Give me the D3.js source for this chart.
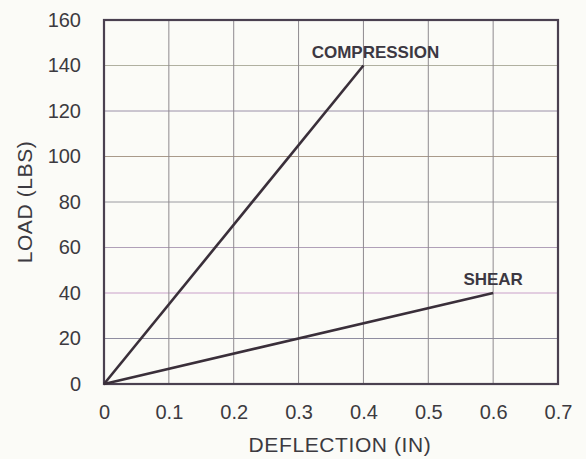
<!DOCTYPE html>
<html><head><meta charset="utf-8">
<script src="https://cdn.jsdelivr.net/npm/d3@7"></script>
<style>
html,body{margin:0;padding:0;background:#fbfbf7;}
svg{display:block;}
text{font-family:"Liberation Sans",Arial,Helvetica,sans-serif;}
</style></head>
<body>
<svg id="c" width="586" height="459"></svg>
<script>
const seriesNames = ["COMPRESSION", "SHEAR"];
const compressionX = [0, 0.4];
const compressionY = [0, 140];
const shearX = [0, 0.6];
const shearY = [0, 40];
const xTicks = [0, 0.1, 0.2, 0.3, 0.4, 0.5, 0.6, 0.7];
const yTicks = [0, 20, 40, 60, 80, 100, 120, 140, 160];
const xTitle = "DEFLECTION (IN)";
const yTitle = "LOAD (LBS)";

const svg = d3.select("#c");
const m = {l:104, r:558, t:20, b:384};
const x = d3.scaleLinear().domain([0,0.7]).range([m.l, m.r]);
const y = d3.scaleLinear().domain([0,160]).range([m.b, m.t]);

svg.append("rect").attr("width",586).attr("height",459).attr("fill","#fbfbf7");

const hColors = ["#8f8da0","#c9a0c9","#b0a0b8","#9a9aa0","#a99a8a","#9a90a8","#b0b0a0","#8aa8c0","#a090b0"];
svg.append("g").selectAll("line").data(yTicks.filter(d=>d>0 && d<160)).join("line")
  .attr("x1",m.l).attr("x2",m.r).attr("y1",d=>y(d)).attr("y2",d=>y(d))
  .attr("stroke",(d,i)=>hColors[i]).attr("stroke-width",1);
svg.append("g").selectAll("line").data(xTicks.filter(d=>d>0 && d<0.7)).join("line")
  .attr("x1",d=>x(d)).attr("x2",d=>x(d)).attr("y1",m.t).attr("y2",m.b)
  .attr("stroke","#8e8a8e").attr("stroke-width",1);

svg.append("rect").attr("x",m.l).attr("y",m.t).attr("width",m.r-m.l).attr("height",m.b-m.t)
  .attr("fill","none").attr("stroke","#4a4050").attr("stroke-width",2.2);

const xAxis = svg.append("g").attr("transform",`translate(0,${m.b})`)
  .call(d3.axisBottom(x).tickValues(xTicks).tickFormat(d=>d===0?"0":d3.format(".1f")(d)).tickSize(0).tickPadding(21));
xAxis.select(".domain").remove();
xAxis.selectAll("text").attr("font-size",20).attr("fill","#3c3a40").attr("font-family","Liberation Sans, Arial, sans-serif");

const yAxis = svg.append("g").attr("transform",`translate(${m.l},0)`)
  .call(d3.axisLeft(y).tickValues(yTicks).tickSize(0).tickPadding(23));
yAxis.select(".domain").remove();
yAxis.selectAll("text").attr("font-size",20).attr("fill","#3c3a40").attr("font-family","Liberation Sans, Arial, sans-serif");

const line = d3.line().x(d=>x(d[0])).y(d=>y(d[1]));
const series = [
  {name:seriesNames[0], pts:compressionX.map((v,i)=>[v,compressionY[i]])},
  {name:seriesNames[1], pts:shearX.map((v,i)=>[v,shearY[i]])}
];
svg.append("g").selectAll("path").data(series).join("path")
  .attr("d",d=>line(d.pts)).attr("fill","none").attr("stroke","#3a2f3a").attr("stroke-width",2.6);

svg.append("text").attr("x",x(0.4)+12).attr("y",y(140)-8).attr("text-anchor","middle")
  .attr("font-size",17).attr("font-weight","bold").attr("fill","#3c3842").text(series[0].name);
svg.append("text").attr("x",x(0.6)).attr("y",y(40)-8).attr("text-anchor","middle")
  .attr("font-size",17).attr("font-weight","bold").attr("fill","#3c3842").text(series[1].name);

svg.append("text").attr("x",340).attr("y",452).attr("text-anchor","middle")
  .attr("font-size",21).attr("letter-spacing",0.6).attr("fill","#3c3a40").text(xTitle);
svg.append("text").attr("transform","translate(32,202) rotate(-90)").attr("text-anchor","middle")
  .attr("font-size",21).attr("letter-spacing",0.6).attr("fill","#3c3a40").text(yTitle);
</script>
</body></html>
